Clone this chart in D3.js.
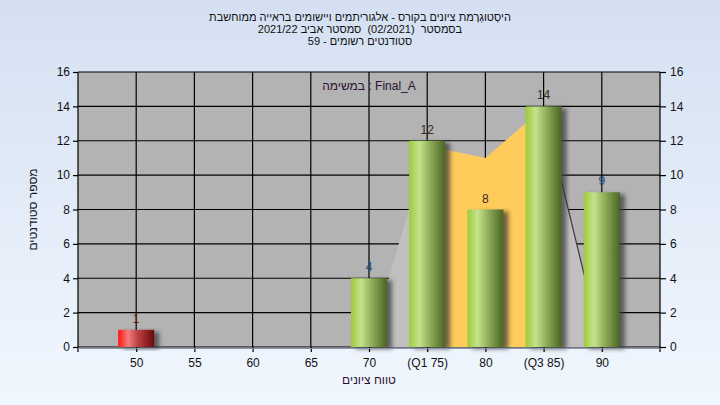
<!DOCTYPE html>
<html>
<head>
<meta charset="utf-8">
<script src="https://cdn.jsdelivr.net/npm/d3@7"></script>
<style>
  html, body { margin: 0; padding: 0; }
  body { width: 720px; height: 405px; overflow: hidden; }
  svg { display: block; font-family: "Liberation Sans", Arial, "DejaVu Sans", sans-serif; }
  .pre { white-space: pre; }
</style>
</head>
<body>
<svg id="chart" width="720" height="405"></svg>
<script>
// ---- data ----
const categories = [50, 55, 60, 65, 70, 75, 80, 85, 90];
const tickLabels = ["50", "55", "60", "65", "70", "(Q1 75)", "80", "(Q3 85)", "90"];
const counts = [1, 0, 0, 0, 4, 12, 8, 14, 9];
const barGroup = ["fail", "pass", "pass", "pass", "pass", "iqr", "iqr", "iqr", "pass"];
const curveX = [70, 75, 80, 85, 90];
const curveY = [0, 11.7, 11.0, 13.9, 0];
const q1 = 75, q3 = 85;
const yTicks = [0, 2, 4, 6, 8, 10, 12, 14, 16];
const titleLines = [
  "היסְטוגְרָמת ציונים בקורס - אלגוריתמים ויישומים בראייה ממוחשבת",
  "בסמסטר  (02/2021)  סמסטר אביב 2021/22",
  "סטודנטים רשומים - 59"
];
const taskLabel = "במשימה : Final_A";
const xTitle = "טווח ציונים";
const yTitle = "מספר סטודנטים";

// ---- layout ----
const W = 720, H = 405;
const L = 78, R = 660, T = 72, B = 347;
const svg = d3.select("#chart");
const defs = svg.append("defs");

const bg = defs.append("linearGradient").attr("id", "bg").attr("x1", 0).attr("y1", 0).attr("x2", 0).attr("y2", 1);
bg.append("stop").attr("offset", "0%").attr("stop-color", "#d4e0f2");
bg.append("stop").attr("offset", "100%").attr("stop-color", "#f1f7fe");

function barGrad(id, stops) {
  const g = defs.append("linearGradient").attr("id", id).attr("x1", 0).attr("y1", 0).attr("x2", 1).attr("y2", 0);
  stops.forEach(s => g.append("stop").attr("offset", s[0]).attr("stop-color", s[1]));
}
barGrad("gGreen", [["0%", "#9ccb3a"], ["28%", "#c6e28c"], ["55%", "#93b35c"], ["100%", "#4b6422"]]);
barGrad("gRed", [["0%", "#ff1414"], ["28%", "#f37c7c"], ["55%", "#bb4040"], ["100%", "#6a0b0b"]]);

const sh = defs.append("filter").attr("id", "shadow").attr("x", "-30%").attr("y", "-10%").attr("width", "160%").attr("height", "130%");
sh.append("feDropShadow").attr("dx", 5).attr("dy", 2).attr("stdDeviation", 2)
  .attr("flood-color", "#333333").attr("flood-opacity", 0.7);

svg.append("rect").attr("width", W).attr("height", H).attr("fill", "url(#bg)");

const x = d3.scaleLinear().domain([45, 95]).range([L, R]);
const y = d3.scaleLinear().domain([0, 16]).range([B, T]);

// plot background
svg.append("rect").attr("x", L).attr("y", T).attr("width", R - L).attr("height", B - T).attr("fill", "#b3b3b3");

// grid
const grid = svg.append("g").attr("stroke", "#000").attr("stroke-width", 1.2);
grid.selectAll("line.h").data(yTicks).join("line").attr("class", "h")
  .attr("x1", L).attr("x2", R).attr("y1", d => y(d)).attr("y2", d => y(d));
grid.selectAll("line.v").data(categories).join("line").attr("class", "v")
  .attr("x1", d => x(d)).attr("x2", d => x(d)).attr("y1", T).attr("y2", B);

// distribution polygon
const curve = curveX.map((v, i) => ({ x: v, y: curveY[i] }));
const area = d3.area().x(d => x(d.x)).y0(y(0)).y1(d => y(d.y));
svg.append("path").datum(curve).attr("d", area).attr("fill", "#c0c0c0");
const iqr = curve.filter(d => d.x >= q1 && d.x <= q3);
svg.append("path").datum(iqr).attr("d", area).attr("fill", "#ffcc5c");
const rightEdge = curve.filter(d => d.x >= q3);
svg.append("path").datum(rightEdge).attr("d", d3.line().x(d => x(d.x)).y(d => y(d.y)))
  .attr("fill", "none").attr("stroke", "#3a3a3a").attr("stroke-width", 1.2);

// task label
svg.append("text").attr("x", (L + R) / 2).attr("y", 90).attr("text-anchor", "middle")
  .attr("font-size", 12).attr("fill", "#2a1030").text(taskLabel);

// bars
const bw = 36;
const bars = categories.map((c, i) => ({ c, v: counts[i], g: barGroup[i] })).filter(d => d.v > 0);
svg.append("g").selectAll("rect").data(bars).join("rect")
  .attr("x", d => x(d.c) - bw / 2).attr("width", bw)
  .attr("y", d => y(d.v)).attr("height", d => y(0) - y(d.v))
  .attr("fill", d => d.g === "fail" ? "url(#gRed)" : "url(#gGreen)")
  .attr("filter", "url(#shadow)");

const labelColor = { fail: "#6b1c10", pass: "#1d4f86", iqr: "#3a2a20" };
svg.append("g").selectAll("text").data(bars).join("text")
  .attr("x", d => x(d.c)).attr("y", d => y(d.v) - 7).attr("text-anchor", "middle")
  .attr("font-size", 12).attr("fill", d => labelColor[d.g]).text(d => d.v);

// axes
const axL = svg.append("g").attr("transform", `translate(${L},0)`)
  .call(d3.axisLeft(y).tickValues(yTicks).tickSize(5).tickPadding(3).tickFormat(d3.format("d")));
const axR = svg.append("g").attr("transform", `translate(${R},0)`)
  .call(d3.axisRight(y).tickValues(yTicks).tickSize(6).tickPadding(4).tickFormat(d3.format("d")));
const axB = svg.append("g").attr("transform", `translate(0,${B})`)
  .call(d3.axisBottom(x).tickValues(categories).tickSize(5).tickPadding(6)
    .tickFormat((d, i) => tickLabels[i]));
[axL, axR, axB].forEach(a => {
  a.select(".domain").remove();
  a.selectAll("line").attr("stroke", "#000").attr("stroke-width", 1.2);
  a.selectAll("text").attr("font-size", 12).attr("fill", "#111")
    .attr("font-family", "'Liberation Sans', Arial, sans-serif");
});
// axis lines
svg.append("line").attr("x1", L).attr("x2", L).attr("y1", T).attr("y2", B + 5).attr("stroke", "#000").attr("stroke-width", 1.2);
svg.append("line").attr("x1", R).attr("x2", R).attr("y1", T).attr("y2", B + 5).attr("stroke", "#000").attr("stroke-width", 1.2);
svg.append("line").attr("x1", L).attr("x2", R).attr("y1", B + 1.5).attr("y2", B + 1.5).attr("stroke", "#8a96a8").attr("stroke-width", 1);

// titles
svg.append("g").selectAll("text").data(titleLines).join("text")
  .attr("class", "pre")
  .attr("x", 360).attr("y", (d, i) => 21 + i * 12.2).attr("text-anchor", "middle")
  .attr("font-size", 11).attr("fill", "#111").text(d => d);

svg.append("text").attr("x", (L + R) / 2).attr("y", 384).attr("text-anchor", "middle")
  .attr("font-size", 12).attr("fill", "#2a1030").text(xTitle);

svg.append("text").attr("transform", `translate(37,${(T + B) / 2}) rotate(-90)`)
  .attr("text-anchor", "middle").attr("font-size", 12).attr("fill", "#1a1a2a").text(yTitle);
</script>
</body>
</html>
